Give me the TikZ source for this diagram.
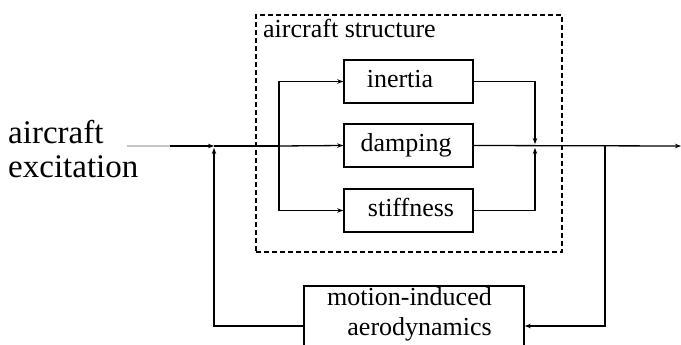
\documentclass[tikz,border=0pt]{standalone}
\usepackage{fontspec}
\setmainfont{Liberation Serif}
\usetikzlibrary{arrows.meta}
\begin{document}
\begin{tikzpicture}[x=1pt,y=-1pt,
  blk/.style={draw,line width=1.6pt,inner sep=0pt},
  lbl/.style={inner sep=0pt,font=\fontsize{26}{30}\selectfont},
  wire/.style={line width=1.3pt},
  arr/.style={wire,-{Stealth[length=6pt,width=4.5pt]}},
]
\useasboundingbox (0,0) rectangle (681,345);
\clip (0,0) rectangle (681,345);

% aircraft structure (dashed)
\node[draw,line width=1.3pt,dash pattern=on 5pt off 3pt,inner sep=0pt,
      minimum width=306pt,minimum height=237pt] (struct) at (409,133.5) {};
\node[lbl,anchor=base west] (structlbl) at (263,38) {aircraft structure};

% blocks
\node[blk,minimum width=129pt,minimum height=43pt] (inertia)   at (408.5,81.5) {};
\node[blk,minimum width=129pt,minimum height=43pt] (damping)   at (408.5,145.5) {};
\node[blk,minimum width=129pt,minimum height=43pt] (stiffness) at (408.5,210.5) {};
\node[lbl,anchor=base] (inertialbl)   at (400,87.5)  {inertia};
\node[lbl,anchor=base] (dampinglbl)   at (406,151.5) {damping};
\node[lbl,anchor=base] (stiffnesslbl) at (411,216.5) {stiffness};

\node[blk,minimum width=220pt,minimum height=80pt] (motion) at (414,326) {};
\node[lbl,anchor=north east,align=right,text depth=0pt] (motionlbl) at (492,287.5) {motion-induced\\aerodynamics};

% input label
\node[inner sep=0pt,anchor=north west,align=left,
      font=\fontsize{33}{34}\selectfont] (exc) at (8,120) {aircraft\\excitation};

% coordinates on the main line
\coordinate (in0) at (127,146);
\coordinate (in1) at (170,146);
\coordinate (sum1) at (214,146);
\coordinate (split) at (279,146);
\coordinate (sum2) at (535,146);
\coordinate (branch) at (605,146);
\coordinate (out) at (681,146);

% connectors
\draw[wire,gray!45] (in0) -- (in1);
\draw[arr] (in1) -- (sum1);
\draw[wire] (sum1) -- (split);
\draw[arr] (split) -- (damping.west);
\draw[arr] (split) |- (inertia.west);
\draw[arr] (split) |- (stiffness.west);
\draw[arr,shorten >=2pt] (inertia.east) -| (sum2);
\draw[arr,shorten >=2pt] (stiffness.east) -| (sum2);
\draw[arr] (damping.east) -- (out);
\draw[arr] (branch) |- (motion.east);
\draw[arr,shorten >=2pt] (motion.west) -| (sum1);
\end{tikzpicture}
\end{document}
